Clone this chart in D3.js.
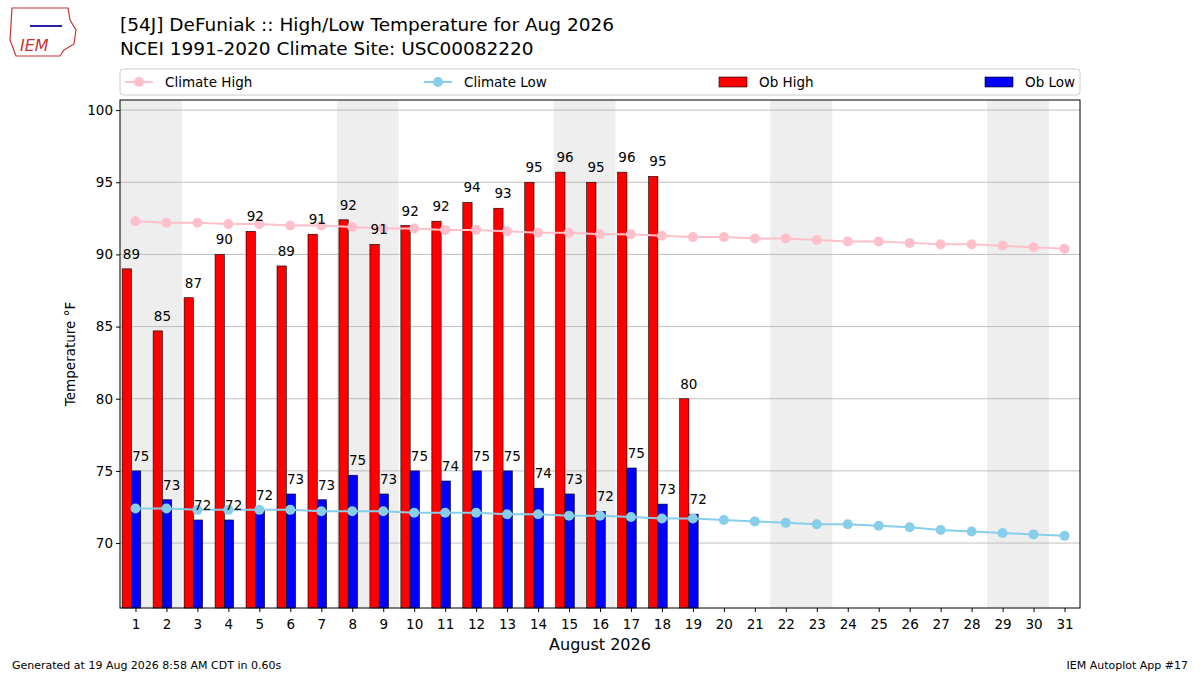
<!DOCTYPE html>
<html><head><meta charset="utf-8">
<script src="https://cdn.jsdelivr.net/npm/d3@7"></script>
<style>body{margin:0;background:#fff}text{font-family:"DejaVu Sans",sans-serif}</style>
</head><body><svg width="1200" height="675"></svg>
<script>
// data
const days = d3.range(1, 32);
const obHigh = [89, 84.7, 87, 90, 91.6, 89.2, 91.4, 92.4, 90.7, 92, 92.3, 93.6, 93.2, 95, 95.7, 95, 95.7, 95.4, 80];
const obLow = [75, 73, 71.6, 71.6, 72.3, 73.4, 73, 74.7, 73.4, 75, 74.3, 75, 75, 73.8, 73.4, 72.2, 75.2, 72.7, 72];
const climHigh = [92.3, 92.2, 92.2, 92.1, 92.1, 92.0, 92.0, 91.9, 91.8, 91.8, 91.7, 91.7, 91.6, 91.5, 91.5, 91.4, 91.4, 91.3, 91.2, 91.2, 91.1, 91.1, 91.0, 90.9, 90.9, 90.8, 90.7, 90.7, 90.6, 90.5, 90.4];
const climLow = [72.4, 72.4, 72.3, 72.3, 72.3, 72.3, 72.2, 72.2, 72.2, 72.1, 72.1, 72.1, 72.0, 72.0, 71.9, 71.9, 71.8, 71.7, 71.7, 71.6, 71.5, 71.4, 71.3, 71.3, 71.2, 71.1, 70.9, 70.8, 70.7, 70.6, 70.5];
const weekendStarts = [1, 8, 15, 22, 29];
const yTicks = [70, 75, 80, 85, 90, 95, 100];

const svg = d3.select("svg");
const L = 120, R = 1080, T = 100, B = 608;
const x = d3.scaleLinear().domain([0.5, 31.5]).range([L, R]);
const y = d3.scaleLinear().domain([65.5, 100.7]).range([B, T]);
const bw = x(0.3) - x(0);
const off = x(-0.13) - x(0);

// weekend shading
svg.append("g").selectAll("rect").data(weekendStarts).join("rect")
  .attr("x", d => x(d - 0.5)).attr("width", x(2) - x(0))
  .attr("y", T).attr("height", B - T).attr("fill", "#eeeeee");

// grid
svg.append("g").selectAll("line").data(yTicks).join("line")
  .attr("x1", L).attr("x2", R).attr("y1", d => y(d)).attr("y2", d => y(d))
  .attr("stroke", "#b0b0b0").attr("stroke-width", 0.8);

// bars
svg.append("g").selectAll("rect").data(obHigh).join("rect")
  .attr("x", (d, i) => x(i + 1) + off - bw).attr("width", bw)
  .attr("y", d => y(d)).attr("height", d => B - y(d))
  .attr("fill", "red").attr("stroke", "#000").attr("stroke-width", 0.6);
svg.append("g").selectAll("rect").data(obLow).join("rect")
  .attr("x", (d, i) => x(i + 1) + off).attr("width", bw)
  .attr("y", d => y(d)).attr("height", d => B - y(d))
  .attr("fill", "blue").attr("stroke", "#000").attr("stroke-width", 0.6);

// climate lines
function climLine(vals, color) {
  const g = svg.append("g");
  g.append("path").datum(vals)
    .attr("d", d3.line().x((d, i) => x(i + 1)).y(d => y(d)))
    .attr("fill", "none").attr("stroke", color).attr("stroke-width", 2);
  g.selectAll("circle").data(vals).join("circle")
    .attr("cx", (d, i) => x(i + 1)).attr("cy", d => y(d)).attr("r", 5).attr("fill", color);
}
climLine(climHigh, "pink");
climLine(climLow, "skyblue");

// bar labels
svg.append("g").selectAll("text").data(obHigh).join("text")
  .attr("x", (d, i) => x(i + 1) + off).attr("y", d => y(d) - 10)
  .attr("text-anchor", "middle").attr("font-size", 13.5).text(d => Math.round(d));
svg.append("g").selectAll("text").data(obLow).join("text")
  .attr("x", (d, i) => x(i + 1) + off + bw).attr("y", d => y(d) - 10)
  .attr("text-anchor", "middle").attr("font-size", 13.5).text(d => Math.round(d));

// frame and axes
svg.append("rect").attr("x", L).attr("y", T).attr("width", R - L).attr("height", B - T)
  .attr("fill", "none").attr("stroke", "#000");
const xa = svg.append("g").attr("transform", `translate(0,${B})`)
  .call(d3.axisBottom(x).tickValues(days).tickSizeOuter(0).tickSize(4));
const ya = svg.append("g").attr("transform", `translate(${L},0)`)
  .call(d3.axisLeft(y).tickValues(yTicks).tickSizeOuter(0).tickSize(4));
[xa, ya].forEach(a => { a.select(".domain").remove(); a.selectAll("text").attr("font-size", 13.5).attr("font-family", "DejaVu Sans").attr("fill", "#000"); });
xa.selectAll("text").attr("dy", "1em");

svg.append("text").attr("x", 600).attr("y", 650).attr("text-anchor", "middle").attr("font-size", 16).text("August 2026");
svg.append("text").attr("transform", "translate(75,354) rotate(-90)").attr("text-anchor", "middle").attr("font-size", 13.5).text("Temperature °F");

// titles
svg.append("text").attr("x", 120).attr("y", 31).attr("font-size", 18.5).text("[54J] DeFuniak :: High/Low Temperature for Aug 2026");
svg.append("text").attr("x", 120).attr("y", 55).attr("font-size", 18.5).text("NCEI 1991-2020 Climate Site: USC00082220");
svg.append("text").attr("x", 12).attr("y", 669).attr("font-size", 11).text("Generated at 19 Aug 2026 8:58 AM CDT in 0.60s");
svg.append("text").attr("x", 1188).attr("y", 669).attr("text-anchor", "end").attr("font-size", 11).text("IEM Autoplot App #17");

// logo
const lg = svg.append("g");
lg.append("path").attr("d", "M12,8 L68,8 L70,20 L76,30 L74,44 L64,50 L60,56 L16,56 L10,40 Z")
  .attr("fill", "none").attr("stroke", "#c33").attr("stroke-width", 1.2);
lg.append("text").attr("x", 20).attr("y", 51).attr("fill", "#c33").attr("font-size", 16)
  .attr("font-style", "italic").attr("font-family", "Liberation Serif").text("IEM");
lg.append("line").attr("x1", 30).attr("x2", 62).attr("y1", 26).attr("y2", 26).attr("stroke", "#22a").attr("stroke-width", 2);

// legend
svg.append("rect").attr("x", 120).attr("y", 69).attr("width", 960).attr("height", 26).attr("rx", 3)
  .attr("fill", "#fff").attr("stroke", "#ccc");
const leg = [
  {t: "Climate High", c: "pink", line: true, x: 125},
  {t: "Climate Low", c: "skyblue", line: true, x: 424},
  {t: "Ob High", c: "red", line: false, x: 719},
  {t: "Ob Low", c: "blue", line: false, x: 985}
];
const lgi = svg.append("g").selectAll("g").data(leg).join("g").attr("transform", d => `translate(${d.x},82)`);
lgi.filter(d => d.line).append("line").attr("x1", 0).attr("x2", 28).attr("stroke", d => d.c).attr("stroke-width", 2);
lgi.filter(d => d.line).append("circle").attr("cx", 14).attr("r", 5).attr("fill", d => d.c);
lgi.filter(d => !d.line).append("rect").attr("x", 0).attr("y", -5).attr("width", 28).attr("height", 10)
  .attr("fill", d => d.c).attr("stroke", "#000").attr("stroke-width", 0.6);
lgi.append("text").attr("x", 40).attr("y", 5).attr("font-size", 13.5).text(d => d.t);
</script></body></html>
